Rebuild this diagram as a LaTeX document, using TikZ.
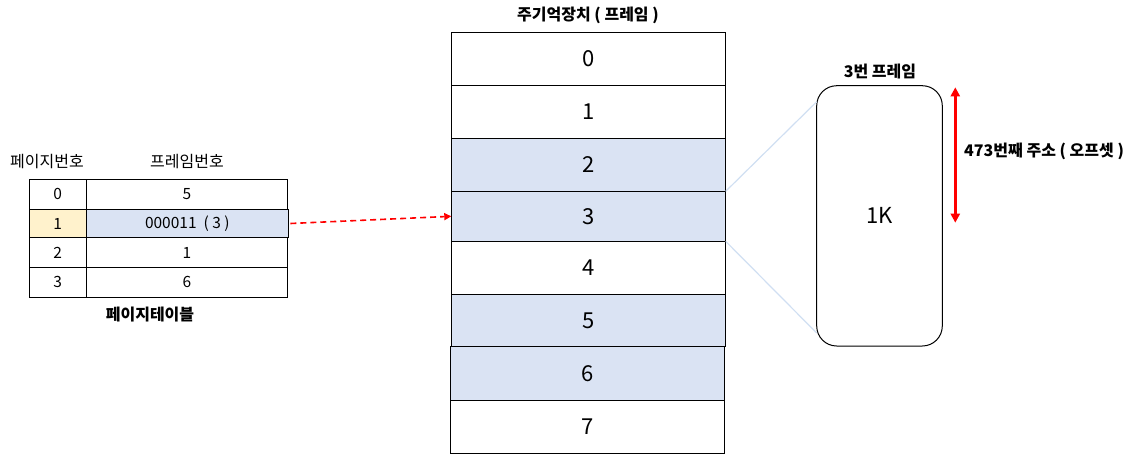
\documentclass[tikz,border=0pt]{standalone}
\usepackage{fontspec}
\setmainfont{Noto Sans CJK KR}
\usetikzlibrary{arrows.meta}
\definecolor{cellblue}{HTML}{DAE3F3}
\definecolor{cellyellow}{HTML}{FFF2CC}
\definecolor{linkblue}{HTML}{D0DFF2}
\tikzset{
  memcell/.style={draw=black, line width=1pt, inner sep=0pt, outer sep=0pt, font=\fontsize{22}{24}\selectfont},
  ptcell/.style={draw=black, line width=0.8pt, inner sep=0pt, outer sep=0pt, font=\fontsize{15.5}{17}\selectfont},
  plainlbl/.style={inner sep=0pt, font=\fontsize{16}{18}\selectfont},
  boldlbl/.style={inner sep=0pt, font=\fontsize{16}{18}\selectfont\bfseries},
  redarrow/.style={red, line width=1.6pt, dash pattern=on 6pt off 4pt, -{Triangle[length=7pt,width=7pt]}},
  offarrow/.style={red, line width=2.4pt, {Triangle[length=9pt,width=9pt]}-{Triangle[length=9pt,width=9pt]}},
  linkline/.style={linkblue, line width=1.2pt}
}
\begin{document}
\begin{tikzpicture}[x=1pt,y=-1pt]
\useasboundingbox (0,0) rectangle (1136,456);
% memory
\node[memcell, fill=white, minimum width=274.4pt, minimum height=52.7pt] (m0) at (588.5,58.65) {0};
\node[memcell, fill=white, minimum width=274.4pt, minimum height=53.3pt] (m1) at (588.5,111.65) {1};
\node[memcell, fill=cellblue, minimum width=274.4pt, minimum height=53pt] (m2) at (588.5,164.8) {2};
\node[memcell, fill=cellblue, minimum width=274.4pt, minimum height=50pt] (m3) at (588.5,216.3) {3};
\node[memcell, fill=white, minimum width=274.4pt, minimum height=53pt] (m4) at (588.5,267.8) {4};
\node[memcell, fill=cellblue, minimum width=274.4pt, minimum height=52pt] (m5) at (588.5,320.3) {5};
\node[memcell, fill=cellblue, minimum width=274pt, minimum height=54pt] (m6) at (587.3,373.3) {6};
\node[memcell, fill=white, minimum width=274pt, minimum height=53pt] (m7) at (587.3,426.8) {7};
\node[boldlbl] (memtitle) at (588,15) {주기억장치 ( 프레임 )};
% page table
\node[plainlbl] (h1) at (47,162) {페이지번호};
\node[plainlbl] (h2) at (187,162) {프레임번호};
\node[ptcell, minimum width=57pt, minimum height=30.3pt] (p0a) at (57.8,194.15) {0};
\node[ptcell, minimum width=201.4pt, minimum height=30.3pt] (p0b) at (187,194.15) {5};
\node[ptcell, fill=cellyellow, minimum width=57pt, minimum height=28.4pt] (p1a) at (57.8,223.5) {1};
\node[ptcell, fill=cellblue, minimum width=202pt, minimum height=28.4pt] (p1b) at (187.3,223.5) {000011\ \ (\ 3\ )};
\node[ptcell, minimum width=57pt, minimum height=29.6pt] (p2a) at (57.8,252.5) {2};
\node[ptcell, minimum width=201.4pt, minimum height=29.6pt] (p2b) at (187,252.5) {1};
\node[ptcell, minimum width=57pt, minimum height=30pt] (p3a) at (57.8,282.3) {3};
\node[ptcell, minimum width=201.4pt, minimum height=30pt] (p3b) at (187,282.3) {6};
\node[boldlbl] (pttitle) at (150,315) {페이지테이블};
% arrow page table -> memory
\draw[redarrow] (p1b.east) ++(2,0) coordinate (as) -- (m3.west);
% frame detail
\node[draw=black, line width=1pt, rounded corners=20pt, minimum width=125.6pt, minimum height=260.3pt, inner sep=0pt, font=\fontsize{22}{24}\selectfont] (frame) at (879.5,215.85) {1K};
\node[boldlbl] (frametitle) at (880,71) {3번 프레임};
\coordinate (fa) at (816.7,101.7);
\coordinate (fb) at (816.7,333);
\draw[linkline] (m2.south east) -- (fa);
\draw[linkline] (m3.south east) -- (fb);
% offset arrow
\coordinate (o1) at (955.3,87.3);
\coordinate (o2) at (955.3,222.7);
\draw[offarrow] (o1) -- (o2);
\node[boldlbl, anchor=west] (offlbl) at (964,151.7) {473번째 주소 ( 오프셋 )};
\end{tikzpicture}
\end{document}
